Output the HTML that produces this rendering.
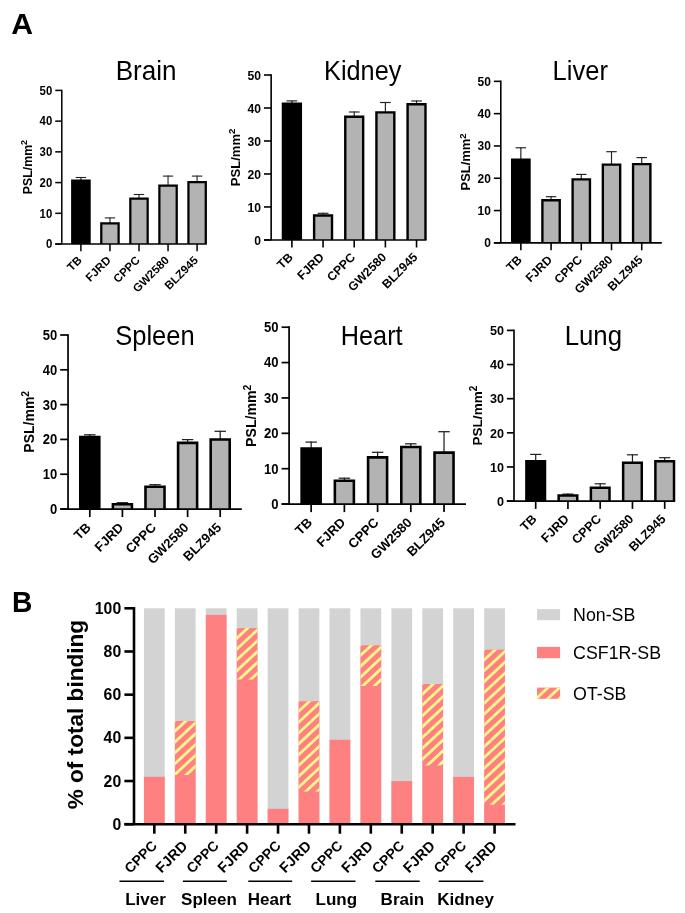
<!DOCTYPE html>
<html><head><meta charset="utf-8"><title>Figure</title>
<style>
html,body{margin:0;padding:0;background:#fff;}
body{width:685px;height:913px;overflow:hidden;font-family:"Liberation Sans",sans-serif;}
svg{display:block;will-change:transform;}
#wrap{width:685px;height:913px;}
</style></head><body><div id="wrap">
<svg width="685" height="913" viewBox="0 0 685 913">
<defs><clipPath id="hc1"><rect x="174.88" y="721" width="20.75" height="53.9"/></clipPath>
<clipPath id="hc3"><rect x="236.74" y="628.1" width="20.75" height="51.4"/></clipPath>
<clipPath id="hc5"><rect x="298.6" y="701.2" width="20.75" height="90.4"/></clipPath>
<clipPath id="hc7"><rect x="360.46" y="645.3" width="20.75" height="40.8"/></clipPath>
<clipPath id="hc9"><rect x="422.32" y="684" width="20.75" height="81.5"/></clipPath>
<clipPath id="hc11"><rect x="484.18" y="649.7" width="20.75" height="155"/></clipPath>
<clipPath id="hleg"><rect x="537.0" y="687.6" width="23.1" height="11.2"/></clipPath></defs>
<rect x="0" y="0" width="685" height="913" fill="#fff"/>
<g font-family="Liberation Sans, sans-serif" fill="#000">
<text x="11.2" y="34.0" font-size="30.2" font-weight="bold">A</text>
<text transform="translate(11.9,612.1) scale(1,1.06)" font-size="28.2" font-weight="bold">B</text>
<line x1="80.9" y1="181.5" x2="80.9" y2="177" stroke="#222" stroke-width="1.1"/>
<line x1="75.71" y1="177.5" x2="86.09" y2="177.5" stroke="#222" stroke-width="1.1"/>
<rect x="72.23" y="180.62" width="17.35" height="63.43" fill="#000"/>
<path d="M72.23 244.05V180.62H89.58V244.05" fill="none" stroke="#000" stroke-width="2.25" stroke-linejoin="miter"/>
<line x1="109.95" y1="224.3" x2="109.95" y2="217.4" stroke="#222" stroke-width="1.1"/>
<line x1="104.76" y1="217.9" x2="115.14" y2="217.9" stroke="#222" stroke-width="1.1"/>
<rect x="101.28" y="223.43" width="17.35" height="20.62" fill="#b3b3b3"/>
<path d="M101.28 244.05V223.43H118.62V244.05" fill="none" stroke="#000" stroke-width="2.25" stroke-linejoin="miter"/>
<line x1="139" y1="199.5" x2="139" y2="194" stroke="#222" stroke-width="1.1"/>
<line x1="133.81" y1="194.5" x2="144.19" y2="194.5" stroke="#222" stroke-width="1.1"/>
<rect x="130.32" y="198.62" width="17.35" height="45.43" fill="#b3b3b3"/>
<path d="M130.32 244.05V198.62H147.67V244.05" fill="none" stroke="#000" stroke-width="2.25" stroke-linejoin="miter"/>
<line x1="168.05" y1="186.4" x2="168.05" y2="175.6" stroke="#222" stroke-width="1.1"/>
<line x1="162.86" y1="176.1" x2="173.24" y2="176.1" stroke="#222" stroke-width="1.1"/>
<rect x="159.38" y="185.53" width="17.35" height="58.53" fill="#b3b3b3"/>
<path d="M159.38 244.05V185.53H176.72V244.05" fill="none" stroke="#000" stroke-width="2.25" stroke-linejoin="miter"/>
<line x1="197.1" y1="183" x2="197.1" y2="175.6" stroke="#222" stroke-width="1.1"/>
<line x1="191.91" y1="176.1" x2="202.29" y2="176.1" stroke="#222" stroke-width="1.1"/>
<rect x="188.43" y="182.12" width="17.35" height="61.93" fill="#b3b3b3"/>
<path d="M188.43 244.05V182.12H205.78V244.05" fill="none" stroke="#000" stroke-width="2.25" stroke-linejoin="miter"/>
<line x1="61.8" y1="89.65" x2="61.8" y2="244.05" stroke="#000" stroke-width="1.5"/>
<line x1="55.25" y1="244.05" x2="206.8" y2="244.05" stroke="#000" stroke-width="1.5"/>
<line x1="55.25" y1="244.05" x2="61.8" y2="244.05" stroke="#000" stroke-width="1.5"/>
<text transform="translate(52.25,248.34) scale(1,1.06)" font-size="11.4" font-weight="bold" text-anchor="end">0</text>
<line x1="55.25" y1="213.32" x2="61.8" y2="213.32" stroke="#000" stroke-width="1.5"/>
<text transform="translate(52.25,217.61) scale(1,1.06)" font-size="11.4" font-weight="bold" text-anchor="end">10</text>
<line x1="55.25" y1="182.59" x2="61.8" y2="182.59" stroke="#000" stroke-width="1.5"/>
<text transform="translate(52.25,186.88) scale(1,1.06)" font-size="11.4" font-weight="bold" text-anchor="end">20</text>
<line x1="55.25" y1="151.86" x2="61.8" y2="151.86" stroke="#000" stroke-width="1.5"/>
<text transform="translate(52.25,156.15) scale(1,1.06)" font-size="11.4" font-weight="bold" text-anchor="end">30</text>
<line x1="55.25" y1="121.13" x2="61.8" y2="121.13" stroke="#000" stroke-width="1.5"/>
<text transform="translate(52.25,125.42) scale(1,1.06)" font-size="11.4" font-weight="bold" text-anchor="end">40</text>
<line x1="55.25" y1="90.4" x2="61.8" y2="90.4" stroke="#000" stroke-width="1.5"/>
<text transform="translate(52.25,94.69) scale(1,1.06)" font-size="11.4" font-weight="bold" text-anchor="end">50</text>
<line x1="80.9" y1="244.05" x2="80.9" y2="251.15" stroke="#000" stroke-width="1.5"/>
<text transform="translate(82.55,260.9) rotate(-45)" font-size="11.5" font-weight="bold" text-anchor="end">TB</text>
<line x1="109.95" y1="244.05" x2="109.95" y2="251.15" stroke="#000" stroke-width="1.5"/>
<text transform="translate(111.6,260.9) rotate(-45)" font-size="11.5" font-weight="bold" text-anchor="end">FJRD</text>
<line x1="139" y1="244.05" x2="139" y2="251.15" stroke="#000" stroke-width="1.5"/>
<text transform="translate(140.65,260.9) rotate(-45)" font-size="11.5" font-weight="bold" text-anchor="end">CPPC</text>
<line x1="168.05" y1="244.05" x2="168.05" y2="251.15" stroke="#000" stroke-width="1.5"/>
<text transform="translate(169.7,260.9) rotate(-45)" font-size="11.5" font-weight="bold" text-anchor="end">GW2580</text>
<line x1="197.1" y1="244.05" x2="197.1" y2="251.15" stroke="#000" stroke-width="1.5"/>
<text transform="translate(198.75,260.9) rotate(-45)" font-size="11.5" font-weight="bold" text-anchor="end">BLZ945</text>
<text transform="translate(31.9,167) rotate(-90)" font-size="12.3" font-weight="bold" text-anchor="middle">PSL/mm<tspan font-size="9.1" dy="-4.43">2</tspan></text>
<text transform="translate(115.71,79.9) scale(1.01,1.06)" font-size="25.8">Brain</text>
<line x1="291.9" y1="104.5" x2="291.9" y2="100.4" stroke="#222" stroke-width="1.17"/>
<line x1="286.52" y1="100.9" x2="297.28" y2="100.9" stroke="#222" stroke-width="1.17"/>
<rect x="282.95" y="103.7" width="17.9" height="136.25" fill="#000"/>
<path d="M282.95 239.95V103.7H300.85V239.95" fill="none" stroke="#000" stroke-width="2.4" stroke-linejoin="miter"/>
<line x1="323.06" y1="216.3" x2="323.06" y2="212.8" stroke="#222" stroke-width="1.17"/>
<line x1="317.68" y1="213.3" x2="328.44" y2="213.3" stroke="#222" stroke-width="1.17"/>
<rect x="314.11" y="215.5" width="17.9" height="24.45" fill="#b3b3b3"/>
<path d="M314.11 239.95V215.5H332.01V239.95" fill="none" stroke="#000" stroke-width="2.4" stroke-linejoin="miter"/>
<line x1="354.22" y1="117.5" x2="354.22" y2="111.5" stroke="#222" stroke-width="1.17"/>
<line x1="348.84" y1="112" x2="359.6" y2="112" stroke="#222" stroke-width="1.17"/>
<rect x="345.27" y="116.7" width="17.9" height="123.25" fill="#b3b3b3"/>
<path d="M345.27 239.95V116.7H363.17V239.95" fill="none" stroke="#000" stroke-width="2.4" stroke-linejoin="miter"/>
<line x1="385.38" y1="113.2" x2="385.38" y2="102" stroke="#222" stroke-width="1.17"/>
<line x1="380" y1="102.5" x2="390.76" y2="102.5" stroke="#222" stroke-width="1.17"/>
<rect x="376.43" y="112.4" width="17.9" height="127.55" fill="#b3b3b3"/>
<path d="M376.43 239.95V112.4H394.33V239.95" fill="none" stroke="#000" stroke-width="2.4" stroke-linejoin="miter"/>
<line x1="416.54" y1="105.1" x2="416.54" y2="100.5" stroke="#222" stroke-width="1.17"/>
<line x1="411.16" y1="101" x2="421.92" y2="101" stroke="#222" stroke-width="1.17"/>
<rect x="407.59" y="104.3" width="17.9" height="135.65" fill="#b3b3b3"/>
<path d="M407.59 239.95V104.3H425.49V239.95" fill="none" stroke="#000" stroke-width="2.4" stroke-linejoin="miter"/>
<line x1="271.15" y1="74.2" x2="271.15" y2="239.95" stroke="#000" stroke-width="1.6"/>
<line x1="264" y1="239.95" x2="426.5" y2="239.95" stroke="#000" stroke-width="1.6"/>
<line x1="264" y1="239.95" x2="271.15" y2="239.95" stroke="#000" stroke-width="1.6"/>
<text transform="translate(261,244.52) scale(1,1.06)" font-size="12.14" font-weight="bold" text-anchor="end">0</text>
<line x1="264" y1="206.96" x2="271.15" y2="206.96" stroke="#000" stroke-width="1.6"/>
<text transform="translate(261,211.53) scale(1,1.06)" font-size="12.14" font-weight="bold" text-anchor="end">10</text>
<line x1="264" y1="173.97" x2="271.15" y2="173.97" stroke="#000" stroke-width="1.6"/>
<text transform="translate(261,178.54) scale(1,1.06)" font-size="12.14" font-weight="bold" text-anchor="end">20</text>
<line x1="264" y1="140.98" x2="271.15" y2="140.98" stroke="#000" stroke-width="1.6"/>
<text transform="translate(261,145.55) scale(1,1.06)" font-size="12.14" font-weight="bold" text-anchor="end">30</text>
<line x1="264" y1="107.99" x2="271.15" y2="107.99" stroke="#000" stroke-width="1.6"/>
<text transform="translate(261,112.56) scale(1,1.06)" font-size="12.14" font-weight="bold" text-anchor="end">40</text>
<line x1="264" y1="75" x2="271.15" y2="75" stroke="#000" stroke-width="1.6"/>
<text transform="translate(261,79.57) scale(1,1.06)" font-size="12.14" font-weight="bold" text-anchor="end">50</text>
<line x1="291.9" y1="239.95" x2="291.9" y2="247.48" stroke="#000" stroke-width="1.6"/>
<text transform="translate(293.66,257.9) rotate(-45)" font-size="12.25" font-weight="bold" text-anchor="end">TB</text>
<line x1="323.06" y1="239.95" x2="323.06" y2="247.48" stroke="#000" stroke-width="1.6"/>
<text transform="translate(324.82,257.9) rotate(-45)" font-size="12.25" font-weight="bold" text-anchor="end">FJRD</text>
<line x1="354.22" y1="239.95" x2="354.22" y2="247.48" stroke="#000" stroke-width="1.6"/>
<text transform="translate(355.98,257.9) rotate(-45)" font-size="12.25" font-weight="bold" text-anchor="end">CPPC</text>
<line x1="385.38" y1="239.95" x2="385.38" y2="247.48" stroke="#000" stroke-width="1.6"/>
<text transform="translate(387.14,257.9) rotate(-45)" font-size="12.25" font-weight="bold" text-anchor="end">GW2580</text>
<line x1="416.54" y1="239.95" x2="416.54" y2="247.48" stroke="#000" stroke-width="1.6"/>
<text transform="translate(418.3,257.9) rotate(-45)" font-size="12.25" font-weight="bold" text-anchor="end">BLZ945</text>
<text transform="translate(239.8,157.4) rotate(-90)" font-size="13.1" font-weight="bold" text-anchor="middle">PSL/mm<tspan font-size="9.69" dy="-4.72">2</tspan></text>
<text transform="translate(324.07,79.9) scale(0.98,1.06)" font-size="25.8">Kidney</text>
<line x1="520.85" y1="160.5" x2="520.85" y2="147.3" stroke="#222" stroke-width="1.16"/>
<line x1="515.63" y1="147.8" x2="526.07" y2="147.8" stroke="#222" stroke-width="1.16"/>
<rect x="512.18" y="159.68" width="17.34" height="83.17" fill="#000"/>
<path d="M512.18 242.85V159.68H529.52V242.85" fill="none" stroke="#000" stroke-width="2.36" stroke-linejoin="miter"/>
<line x1="551.07" y1="201.1" x2="551.07" y2="196.2" stroke="#222" stroke-width="1.16"/>
<line x1="545.85" y1="196.7" x2="556.29" y2="196.7" stroke="#222" stroke-width="1.16"/>
<rect x="542.4" y="200.28" width="17.34" height="42.57" fill="#b3b3b3"/>
<path d="M542.4 242.85V200.28H559.74V242.85" fill="none" stroke="#000" stroke-width="2.36" stroke-linejoin="miter"/>
<line x1="581.29" y1="180.2" x2="581.29" y2="173.9" stroke="#222" stroke-width="1.16"/>
<line x1="576.07" y1="174.4" x2="586.51" y2="174.4" stroke="#222" stroke-width="1.16"/>
<rect x="572.62" y="179.38" width="17.34" height="63.47" fill="#b3b3b3"/>
<path d="M572.62 242.85V179.38H589.96V242.85" fill="none" stroke="#000" stroke-width="2.36" stroke-linejoin="miter"/>
<line x1="611.51" y1="165.4" x2="611.51" y2="151.2" stroke="#222" stroke-width="1.16"/>
<line x1="606.29" y1="151.7" x2="616.73" y2="151.7" stroke="#222" stroke-width="1.16"/>
<rect x="602.84" y="164.58" width="17.34" height="78.27" fill="#b3b3b3"/>
<path d="M602.84 242.85V164.58H620.18V242.85" fill="none" stroke="#000" stroke-width="2.36" stroke-linejoin="miter"/>
<line x1="641.73" y1="164.9" x2="641.73" y2="157.1" stroke="#222" stroke-width="1.16"/>
<line x1="636.51" y1="157.6" x2="646.95" y2="157.6" stroke="#222" stroke-width="1.16"/>
<rect x="633.06" y="164.08" width="17.34" height="78.77" fill="#b3b3b3"/>
<path d="M633.06 242.85V164.08H650.4V242.85" fill="none" stroke="#000" stroke-width="2.36" stroke-linejoin="miter"/>
<line x1="500.8" y1="80.56" x2="500.8" y2="242.85" stroke="#000" stroke-width="1.58"/>
<line x1="493.9" y1="242.85" x2="661.8" y2="242.85" stroke="#000" stroke-width="1.58"/>
<line x1="493.9" y1="242.85" x2="500.8" y2="242.85" stroke="#000" stroke-width="1.58"/>
<text transform="translate(490.9,247.35) scale(1,1.06)" font-size="11.97" font-weight="bold" text-anchor="end">0</text>
<line x1="493.9" y1="210.55" x2="500.8" y2="210.55" stroke="#000" stroke-width="1.58"/>
<text transform="translate(490.9,215.05) scale(1,1.06)" font-size="11.97" font-weight="bold" text-anchor="end">10</text>
<line x1="493.9" y1="178.25" x2="500.8" y2="178.25" stroke="#000" stroke-width="1.58"/>
<text transform="translate(490.9,182.75) scale(1,1.06)" font-size="11.97" font-weight="bold" text-anchor="end">20</text>
<line x1="493.9" y1="145.95" x2="500.8" y2="145.95" stroke="#000" stroke-width="1.58"/>
<text transform="translate(490.9,150.45) scale(1,1.06)" font-size="11.97" font-weight="bold" text-anchor="end">30</text>
<line x1="493.9" y1="113.65" x2="500.8" y2="113.65" stroke="#000" stroke-width="1.58"/>
<text transform="translate(490.9,118.15) scale(1,1.06)" font-size="11.97" font-weight="bold" text-anchor="end">40</text>
<line x1="493.9" y1="81.35" x2="500.8" y2="81.35" stroke="#000" stroke-width="1.58"/>
<text transform="translate(490.9,85.85) scale(1,1.06)" font-size="11.97" font-weight="bold" text-anchor="end">50</text>
<line x1="520.85" y1="242.85" x2="520.85" y2="250.28" stroke="#000" stroke-width="1.58"/>
<text transform="translate(522.58,260.54) rotate(-45)" font-size="12.08" font-weight="bold" text-anchor="end">TB</text>
<line x1="551.07" y1="242.85" x2="551.07" y2="250.28" stroke="#000" stroke-width="1.58"/>
<text transform="translate(552.8,260.54) rotate(-45)" font-size="12.08" font-weight="bold" text-anchor="end">FJRD</text>
<line x1="581.29" y1="242.85" x2="581.29" y2="250.28" stroke="#000" stroke-width="1.58"/>
<text transform="translate(583.02,260.54) rotate(-45)" font-size="12.08" font-weight="bold" text-anchor="end">CPPC</text>
<line x1="611.51" y1="242.85" x2="611.51" y2="250.28" stroke="#000" stroke-width="1.58"/>
<text transform="translate(613.24,260.54) rotate(-45)" font-size="12.08" font-weight="bold" text-anchor="end">GW2580</text>
<line x1="641.73" y1="242.85" x2="641.73" y2="250.28" stroke="#000" stroke-width="1.58"/>
<text transform="translate(643.46,260.54) rotate(-45)" font-size="12.08" font-weight="bold" text-anchor="end">BLZ945</text>
<text transform="translate(470.3,162) rotate(-90)" font-size="12.92" font-weight="bold" text-anchor="middle">PSL/mm<tspan font-size="9.56" dy="-4.65">2</tspan></text>
<text transform="translate(552.56,79.9) scale(0.99,1.06)" font-size="25.8">Liver</text>
<line x1="89.8" y1="437.8" x2="89.8" y2="434.3" stroke="#222" stroke-width="1.25"/>
<line x1="84.08" y1="434.8" x2="95.52" y2="434.8" stroke="#222" stroke-width="1.25"/>
<rect x="80.28" y="437.08" width="19.04" height="71.97" fill="#000"/>
<path d="M80.28 509.05V437.08H99.32V509.05" fill="none" stroke="#000" stroke-width="2.56" stroke-linejoin="miter"/>
<line x1="122.4" y1="504.9" x2="122.4" y2="502.2" stroke="#222" stroke-width="1.25"/>
<line x1="116.68" y1="502.7" x2="128.12" y2="502.7" stroke="#222" stroke-width="1.25"/>
<rect x="112.88" y="504.18" width="19.04" height="4.87" fill="#b3b3b3"/>
<path d="M112.88 509.05V504.18H131.92V509.05" fill="none" stroke="#000" stroke-width="2.56" stroke-linejoin="miter"/>
<line x1="155" y1="487.4" x2="155" y2="484.2" stroke="#222" stroke-width="1.25"/>
<line x1="149.28" y1="484.7" x2="160.72" y2="484.7" stroke="#222" stroke-width="1.25"/>
<rect x="145.48" y="486.68" width="19.04" height="22.37" fill="#b3b3b3"/>
<path d="M145.48 509.05V486.68H164.52V509.05" fill="none" stroke="#000" stroke-width="2.56" stroke-linejoin="miter"/>
<line x1="187.6" y1="443.6" x2="187.6" y2="439.1" stroke="#222" stroke-width="1.25"/>
<line x1="181.88" y1="439.6" x2="193.32" y2="439.6" stroke="#222" stroke-width="1.25"/>
<rect x="178.08" y="442.88" width="19.04" height="66.17" fill="#b3b3b3"/>
<path d="M178.08 509.05V442.88H197.12V509.05" fill="none" stroke="#000" stroke-width="2.56" stroke-linejoin="miter"/>
<line x1="220.2" y1="440.3" x2="220.2" y2="430.8" stroke="#222" stroke-width="1.25"/>
<line x1="214.48" y1="431.3" x2="225.92" y2="431.3" stroke="#222" stroke-width="1.25"/>
<rect x="210.68" y="439.58" width="19.04" height="69.47" fill="#b3b3b3"/>
<path d="M210.68 509.05V439.58H229.72V509.05" fill="none" stroke="#000" stroke-width="2.56" stroke-linejoin="miter"/>
<line x1="68.05" y1="334.14" x2="68.05" y2="509.05" stroke="#000" stroke-width="1.71"/>
<line x1="60.2" y1="509.05" x2="241.8" y2="509.05" stroke="#000" stroke-width="1.71"/>
<line x1="60.2" y1="509.05" x2="68.05" y2="509.05" stroke="#000" stroke-width="1.71"/>
<text transform="translate(57.2,513.94) scale(1,1.06)" font-size="13" font-weight="bold" text-anchor="end">0</text>
<line x1="60.2" y1="474.24" x2="68.05" y2="474.24" stroke="#000" stroke-width="1.71"/>
<text transform="translate(57.2,479.13) scale(1,1.06)" font-size="13" font-weight="bold" text-anchor="end">10</text>
<line x1="60.2" y1="439.43" x2="68.05" y2="439.43" stroke="#000" stroke-width="1.71"/>
<text transform="translate(57.2,444.32) scale(1,1.06)" font-size="13" font-weight="bold" text-anchor="end">20</text>
<line x1="60.2" y1="404.62" x2="68.05" y2="404.62" stroke="#000" stroke-width="1.71"/>
<text transform="translate(57.2,409.51) scale(1,1.06)" font-size="13" font-weight="bold" text-anchor="end">30</text>
<line x1="60.2" y1="369.81" x2="68.05" y2="369.81" stroke="#000" stroke-width="1.71"/>
<text transform="translate(57.2,374.7) scale(1,1.06)" font-size="13" font-weight="bold" text-anchor="end">40</text>
<line x1="60.2" y1="335" x2="68.05" y2="335" stroke="#000" stroke-width="1.71"/>
<text transform="translate(57.2,339.89) scale(1,1.06)" font-size="13" font-weight="bold" text-anchor="end">50</text>
<line x1="89.8" y1="509.05" x2="89.8" y2="517.07" stroke="#000" stroke-width="1.71"/>
<text transform="translate(91.68,528.26) rotate(-45)" font-size="13.11" font-weight="bold" text-anchor="end">TB</text>
<line x1="122.4" y1="509.05" x2="122.4" y2="517.07" stroke="#000" stroke-width="1.71"/>
<text transform="translate(124.28,528.26) rotate(-45)" font-size="13.11" font-weight="bold" text-anchor="end">FJRD</text>
<line x1="155" y1="509.05" x2="155" y2="517.07" stroke="#000" stroke-width="1.71"/>
<text transform="translate(156.88,528.26) rotate(-45)" font-size="13.11" font-weight="bold" text-anchor="end">CPPC</text>
<line x1="187.6" y1="509.05" x2="187.6" y2="517.07" stroke="#000" stroke-width="1.71"/>
<text transform="translate(189.48,528.26) rotate(-45)" font-size="13.11" font-weight="bold" text-anchor="end">GW2580</text>
<line x1="220.2" y1="509.05" x2="220.2" y2="517.07" stroke="#000" stroke-width="1.71"/>
<text transform="translate(222.08,528.26) rotate(-45)" font-size="13.11" font-weight="bold" text-anchor="end">BLZ945</text>
<text transform="translate(34.2,421.8) rotate(-90)" font-size="14.02" font-weight="bold" text-anchor="middle">PSL/mm<tspan font-size="10.38" dy="-5.05">2</tspan></text>
<text transform="translate(115.16,344.6) scale(0.99,1.06)" font-size="25.8">Spleen</text>
<line x1="311.15" y1="449.3" x2="311.15" y2="441.6" stroke="#222" stroke-width="1.26"/>
<line x1="305.43" y1="442.1" x2="316.87" y2="442.1" stroke="#222" stroke-width="1.26"/>
<rect x="301.64" y="448.59" width="19.02" height="55.46" fill="#000"/>
<path d="M301.64 504.05V448.59H320.66V504.05" fill="none" stroke="#000" stroke-width="2.58" stroke-linejoin="miter"/>
<line x1="344.37" y1="481.4" x2="344.37" y2="477.7" stroke="#222" stroke-width="1.26"/>
<line x1="338.65" y1="478.2" x2="350.09" y2="478.2" stroke="#222" stroke-width="1.26"/>
<rect x="334.86" y="480.69" width="19.02" height="23.36" fill="#b3b3b3"/>
<path d="M334.86 504.05V480.69H353.88V504.05" fill="none" stroke="#000" stroke-width="2.58" stroke-linejoin="miter"/>
<line x1="377.59" y1="458.1" x2="377.59" y2="451.8" stroke="#222" stroke-width="1.26"/>
<line x1="371.87" y1="452.3" x2="383.31" y2="452.3" stroke="#222" stroke-width="1.26"/>
<rect x="368.08" y="457.39" width="19.02" height="46.66" fill="#b3b3b3"/>
<path d="M368.08 504.05V457.39H387.1V504.05" fill="none" stroke="#000" stroke-width="2.58" stroke-linejoin="miter"/>
<line x1="410.81" y1="447.7" x2="410.81" y2="443.3" stroke="#222" stroke-width="1.26"/>
<line x1="405.09" y1="443.8" x2="416.53" y2="443.8" stroke="#222" stroke-width="1.26"/>
<rect x="401.3" y="446.99" width="19.02" height="57.06" fill="#b3b3b3"/>
<path d="M401.3 504.05V446.99H420.32V504.05" fill="none" stroke="#000" stroke-width="2.58" stroke-linejoin="miter"/>
<line x1="444.03" y1="453.3" x2="444.03" y2="431.2" stroke="#222" stroke-width="1.26"/>
<line x1="438.31" y1="431.7" x2="449.75" y2="431.7" stroke="#222" stroke-width="1.26"/>
<rect x="434.52" y="452.59" width="19.02" height="51.46" fill="#b3b3b3"/>
<path d="M434.52 504.05V452.59H453.54V504.05" fill="none" stroke="#000" stroke-width="2.58" stroke-linejoin="miter"/>
<line x1="289.1" y1="326.34" x2="289.1" y2="504.05" stroke="#000" stroke-width="1.72"/>
<line x1="281.6" y1="504.05" x2="466" y2="504.05" stroke="#000" stroke-width="1.72"/>
<line x1="281.6" y1="504.05" x2="289.1" y2="504.05" stroke="#000" stroke-width="1.72"/>
<text transform="translate(278.6,508.97) scale(1,1.06)" font-size="13.06" font-weight="bold" text-anchor="end">0</text>
<line x1="281.6" y1="468.68" x2="289.1" y2="468.68" stroke="#000" stroke-width="1.72"/>
<text transform="translate(278.6,473.6) scale(1,1.06)" font-size="13.06" font-weight="bold" text-anchor="end">10</text>
<line x1="281.6" y1="433.31" x2="289.1" y2="433.31" stroke="#000" stroke-width="1.72"/>
<text transform="translate(278.6,438.23) scale(1,1.06)" font-size="13.06" font-weight="bold" text-anchor="end">20</text>
<line x1="281.6" y1="397.94" x2="289.1" y2="397.94" stroke="#000" stroke-width="1.72"/>
<text transform="translate(278.6,402.86) scale(1,1.06)" font-size="13.06" font-weight="bold" text-anchor="end">30</text>
<line x1="281.6" y1="362.57" x2="289.1" y2="362.57" stroke="#000" stroke-width="1.72"/>
<text transform="translate(278.6,367.49) scale(1,1.06)" font-size="13.06" font-weight="bold" text-anchor="end">40</text>
<line x1="281.6" y1="327.2" x2="289.1" y2="327.2" stroke="#000" stroke-width="1.72"/>
<text transform="translate(278.6,332.12) scale(1,1.06)" font-size="13.06" font-weight="bold" text-anchor="end">50</text>
<line x1="311.15" y1="504.05" x2="311.15" y2="512.11" stroke="#000" stroke-width="1.72"/>
<text transform="translate(313.04,523.36) rotate(-45)" font-size="13.18" font-weight="bold" text-anchor="end">TB</text>
<line x1="344.37" y1="504.05" x2="344.37" y2="512.11" stroke="#000" stroke-width="1.72"/>
<text transform="translate(346.26,523.36) rotate(-45)" font-size="13.18" font-weight="bold" text-anchor="end">FJRD</text>
<line x1="377.59" y1="504.05" x2="377.59" y2="512.11" stroke="#000" stroke-width="1.72"/>
<text transform="translate(379.48,523.36) rotate(-45)" font-size="13.18" font-weight="bold" text-anchor="end">CPPC</text>
<line x1="410.81" y1="504.05" x2="410.81" y2="512.11" stroke="#000" stroke-width="1.72"/>
<text transform="translate(412.7,523.36) rotate(-45)" font-size="13.18" font-weight="bold" text-anchor="end">GW2580</text>
<line x1="444.03" y1="504.05" x2="444.03" y2="512.11" stroke="#000" stroke-width="1.72"/>
<text transform="translate(445.92,523.36) rotate(-45)" font-size="13.18" font-weight="bold" text-anchor="end">BLZ945</text>
<text transform="translate(255.8,415.8) rotate(-90)" font-size="14.1" font-weight="bold" text-anchor="middle">PSL/mm<tspan font-size="10.43" dy="-5.07">2</tspan></text>
<text transform="translate(340.78,344.6) scale(0.98,1.06)" font-size="25.8">Heart</text>
<line x1="535.7" y1="462" x2="535.7" y2="453.9" stroke="#222" stroke-width="1.21"/>
<line x1="530.11" y1="454.4" x2="541.29" y2="454.4" stroke="#222" stroke-width="1.21"/>
<rect x="526.39" y="461.24" width="18.62" height="39.86" fill="#000"/>
<path d="M526.39 501.1V461.24H545.01V501.1" fill="none" stroke="#000" stroke-width="2.48" stroke-linejoin="miter"/>
<line x1="567.95" y1="496.3" x2="567.95" y2="493.6" stroke="#222" stroke-width="1.21"/>
<line x1="562.36" y1="494.1" x2="573.54" y2="494.1" stroke="#222" stroke-width="1.21"/>
<rect x="558.64" y="495.54" width="18.62" height="5.56" fill="#b3b3b3"/>
<path d="M558.64 501.1V495.54H577.26V501.1" fill="none" stroke="#000" stroke-width="2.48" stroke-linejoin="miter"/>
<line x1="600.2" y1="488.4" x2="600.2" y2="483.3" stroke="#222" stroke-width="1.21"/>
<line x1="594.61" y1="483.8" x2="605.79" y2="483.8" stroke="#222" stroke-width="1.21"/>
<rect x="590.89" y="487.64" width="18.62" height="13.46" fill="#b3b3b3"/>
<path d="M590.89 501.1V487.64H609.51V501.1" fill="none" stroke="#000" stroke-width="2.48" stroke-linejoin="miter"/>
<line x1="632.45" y1="463.6" x2="632.45" y2="454.3" stroke="#222" stroke-width="1.21"/>
<line x1="626.86" y1="454.8" x2="638.04" y2="454.8" stroke="#222" stroke-width="1.21"/>
<rect x="623.14" y="462.84" width="18.62" height="38.26" fill="#b3b3b3"/>
<path d="M623.14 501.1V462.84H641.76V501.1" fill="none" stroke="#000" stroke-width="2.48" stroke-linejoin="miter"/>
<line x1="664.7" y1="462.1" x2="664.7" y2="457.2" stroke="#222" stroke-width="1.21"/>
<line x1="659.11" y1="457.7" x2="670.29" y2="457.7" stroke="#222" stroke-width="1.21"/>
<rect x="655.39" y="461.34" width="18.62" height="39.76" fill="#b3b3b3"/>
<path d="M655.39 501.1V461.34H674.01V501.1" fill="none" stroke="#000" stroke-width="2.48" stroke-linejoin="miter"/>
<line x1="514" y1="329.57" x2="514" y2="501.1" stroke="#000" stroke-width="1.66"/>
<line x1="506.9" y1="501.1" x2="675.2" y2="501.1" stroke="#000" stroke-width="1.66"/>
<line x1="506.9" y1="501.1" x2="514" y2="501.1" stroke="#000" stroke-width="1.66"/>
<text transform="translate(503.9,505.84) scale(1,1.06)" font-size="12.59" font-weight="bold" text-anchor="end">0</text>
<line x1="506.9" y1="466.96" x2="514" y2="466.96" stroke="#000" stroke-width="1.66"/>
<text transform="translate(503.9,471.7) scale(1,1.06)" font-size="12.59" font-weight="bold" text-anchor="end">10</text>
<line x1="506.9" y1="432.82" x2="514" y2="432.82" stroke="#000" stroke-width="1.66"/>
<text transform="translate(503.9,437.56) scale(1,1.06)" font-size="12.59" font-weight="bold" text-anchor="end">20</text>
<line x1="506.9" y1="398.68" x2="514" y2="398.68" stroke="#000" stroke-width="1.66"/>
<text transform="translate(503.9,403.42) scale(1,1.06)" font-size="12.59" font-weight="bold" text-anchor="end">30</text>
<line x1="506.9" y1="364.54" x2="514" y2="364.54" stroke="#000" stroke-width="1.66"/>
<text transform="translate(503.9,369.28) scale(1,1.06)" font-size="12.59" font-weight="bold" text-anchor="end">40</text>
<line x1="506.9" y1="330.4" x2="514" y2="330.4" stroke="#000" stroke-width="1.66"/>
<text transform="translate(503.9,335.14) scale(1,1.06)" font-size="12.59" font-weight="bold" text-anchor="end">50</text>
<line x1="535.7" y1="501.1" x2="535.7" y2="508.89" stroke="#000" stroke-width="1.66"/>
<text transform="translate(537.52,519.7) rotate(-45)" font-size="12.7" font-weight="bold" text-anchor="end">TB</text>
<line x1="567.95" y1="501.1" x2="567.95" y2="508.89" stroke="#000" stroke-width="1.66"/>
<text transform="translate(569.77,519.7) rotate(-45)" font-size="12.7" font-weight="bold" text-anchor="end">FJRD</text>
<line x1="600.2" y1="501.1" x2="600.2" y2="508.89" stroke="#000" stroke-width="1.66"/>
<text transform="translate(602.02,519.7) rotate(-45)" font-size="12.7" font-weight="bold" text-anchor="end">CPPC</text>
<line x1="632.45" y1="501.1" x2="632.45" y2="508.89" stroke="#000" stroke-width="1.66"/>
<text transform="translate(634.27,519.7) rotate(-45)" font-size="12.7" font-weight="bold" text-anchor="end">GW2580</text>
<line x1="664.7" y1="501.1" x2="664.7" y2="508.89" stroke="#000" stroke-width="1.66"/>
<text transform="translate(666.52,519.7) rotate(-45)" font-size="12.7" font-weight="bold" text-anchor="end">BLZ945</text>
<text transform="translate(481.7,415.6) rotate(-90)" font-size="13.58" font-weight="bold" text-anchor="middle">PSL/mm<tspan font-size="10.05" dy="-4.89">2</tspan></text>
<text transform="translate(564.64,345) scale(1,1.06)" font-size="25.8">Lung</text>
<rect x="143.95" y="608.3" width="20.75" height="215.9" fill="#d3d3d3"/>
<rect x="143.95" y="776.8" width="20.75" height="47.4" fill="#ff8080"/>
<rect x="174.88" y="608.3" width="20.75" height="215.9" fill="#d3d3d3"/>
<rect x="174.88" y="721" width="20.75" height="103.2" fill="#ff8080"/>
<g clip-path="url(#hc1)" stroke="#fff88a" stroke-width="2.78"><line x1="171.88" y1="712.31" x2="198.63" y2="687.43"/><line x1="171.88" y1="723.15" x2="198.63" y2="698.27"/><line x1="171.88" y1="733.99" x2="198.63" y2="709.11"/><line x1="171.88" y1="744.83" x2="198.63" y2="719.95"/><line x1="171.88" y1="755.67" x2="198.63" y2="730.79"/><line x1="171.88" y1="766.51" x2="198.63" y2="741.63"/><line x1="171.88" y1="777.35" x2="198.63" y2="752.47"/><line x1="171.88" y1="788.19" x2="198.63" y2="763.31"/><line x1="171.88" y1="799.03" x2="198.63" y2="774.15"/><line x1="171.88" y1="809.87" x2="198.63" y2="784.99"/><line x1="171.88" y1="820.71" x2="198.63" y2="795.83"/></g>
<rect x="205.81" y="608.3" width="20.75" height="215.9" fill="#d3d3d3"/>
<rect x="205.81" y="614.9" width="20.75" height="209.3" fill="#ff8080"/>
<rect x="236.74" y="608.3" width="20.75" height="215.9" fill="#d3d3d3"/>
<rect x="236.74" y="628.1" width="20.75" height="196.1" fill="#ff8080"/>
<g clip-path="url(#hc3)" stroke="#fff88a" stroke-width="2.78"><line x1="233.74" y1="619.41" x2="260.49" y2="594.53"/><line x1="233.74" y1="630.25" x2="260.49" y2="605.37"/><line x1="233.74" y1="641.09" x2="260.49" y2="616.21"/><line x1="233.74" y1="651.93" x2="260.49" y2="627.05"/><line x1="233.74" y1="662.77" x2="260.49" y2="637.89"/><line x1="233.74" y1="673.61" x2="260.49" y2="648.73"/><line x1="233.74" y1="684.45" x2="260.49" y2="659.57"/><line x1="233.74" y1="695.29" x2="260.49" y2="670.41"/><line x1="233.74" y1="706.13" x2="260.49" y2="681.25"/><line x1="233.74" y1="716.97" x2="260.49" y2="692.09"/><line x1="233.74" y1="727.81" x2="260.49" y2="702.93"/></g>
<rect x="267.67" y="608.3" width="20.75" height="215.9" fill="#d3d3d3"/>
<rect x="267.67" y="808.8" width="20.75" height="15.4" fill="#ff8080"/>
<rect x="298.6" y="608.3" width="20.75" height="215.9" fill="#d3d3d3"/>
<rect x="298.6" y="701.2" width="20.75" height="123" fill="#ff8080"/>
<g clip-path="url(#hc5)" stroke="#fff88a" stroke-width="2.78"><line x1="295.6" y1="692.51" x2="322.35" y2="667.63"/><line x1="295.6" y1="703.35" x2="322.35" y2="678.47"/><line x1="295.6" y1="714.19" x2="322.35" y2="689.31"/><line x1="295.6" y1="725.03" x2="322.35" y2="700.15"/><line x1="295.6" y1="735.87" x2="322.35" y2="710.99"/><line x1="295.6" y1="746.71" x2="322.35" y2="721.83"/><line x1="295.6" y1="757.55" x2="322.35" y2="732.67"/><line x1="295.6" y1="768.39" x2="322.35" y2="743.51"/><line x1="295.6" y1="779.23" x2="322.35" y2="754.35"/><line x1="295.6" y1="790.07" x2="322.35" y2="765.19"/><line x1="295.6" y1="800.91" x2="322.35" y2="776.03"/><line x1="295.6" y1="811.75" x2="322.35" y2="786.87"/><line x1="295.6" y1="822.59" x2="322.35" y2="797.71"/><line x1="295.6" y1="833.43" x2="322.35" y2="808.55"/></g>
<rect x="329.53" y="608.3" width="20.75" height="215.9" fill="#d3d3d3"/>
<rect x="329.53" y="739.8" width="20.75" height="84.4" fill="#ff8080"/>
<rect x="360.46" y="608.3" width="20.75" height="215.9" fill="#d3d3d3"/>
<rect x="360.46" y="645.3" width="20.75" height="178.9" fill="#ff8080"/>
<g clip-path="url(#hc7)" stroke="#fff88a" stroke-width="2.78"><line x1="357.46" y1="636.61" x2="384.21" y2="611.73"/><line x1="357.46" y1="647.45" x2="384.21" y2="622.57"/><line x1="357.46" y1="658.29" x2="384.21" y2="633.41"/><line x1="357.46" y1="669.13" x2="384.21" y2="644.25"/><line x1="357.46" y1="679.97" x2="384.21" y2="655.09"/><line x1="357.46" y1="690.81" x2="384.21" y2="665.93"/><line x1="357.46" y1="701.65" x2="384.21" y2="676.77"/><line x1="357.46" y1="712.49" x2="384.21" y2="687.61"/><line x1="357.46" y1="723.33" x2="384.21" y2="698.45"/><line x1="357.46" y1="734.17" x2="384.21" y2="709.29"/></g>
<rect x="391.39" y="608.3" width="20.75" height="215.9" fill="#d3d3d3"/>
<rect x="391.39" y="781.1" width="20.75" height="43.1" fill="#ff8080"/>
<rect x="422.32" y="608.3" width="20.75" height="215.9" fill="#d3d3d3"/>
<rect x="422.32" y="684" width="20.75" height="140.2" fill="#ff8080"/>
<g clip-path="url(#hc9)" stroke="#fff88a" stroke-width="2.78"><line x1="419.32" y1="675.31" x2="446.07" y2="650.43"/><line x1="419.32" y1="686.15" x2="446.07" y2="661.27"/><line x1="419.32" y1="696.99" x2="446.07" y2="672.11"/><line x1="419.32" y1="707.83" x2="446.07" y2="682.95"/><line x1="419.32" y1="718.67" x2="446.07" y2="693.79"/><line x1="419.32" y1="729.51" x2="446.07" y2="704.63"/><line x1="419.32" y1="740.35" x2="446.07" y2="715.47"/><line x1="419.32" y1="751.19" x2="446.07" y2="726.31"/><line x1="419.32" y1="762.03" x2="446.07" y2="737.15"/><line x1="419.32" y1="772.87" x2="446.07" y2="747.99"/><line x1="419.32" y1="783.71" x2="446.07" y2="758.83"/><line x1="419.32" y1="794.55" x2="446.07" y2="769.67"/><line x1="419.32" y1="805.39" x2="446.07" y2="780.51"/></g>
<rect x="453.25" y="608.3" width="20.75" height="215.9" fill="#d3d3d3"/>
<rect x="453.25" y="776.9" width="20.75" height="47.3" fill="#ff8080"/>
<rect x="484.18" y="608.3" width="20.75" height="215.9" fill="#d3d3d3"/>
<rect x="484.18" y="649.7" width="20.75" height="174.5" fill="#ff8080"/>
<g clip-path="url(#hc11)" stroke="#fff88a" stroke-width="2.78"><line x1="481.18" y1="641.01" x2="507.93" y2="616.13"/><line x1="481.18" y1="651.85" x2="507.93" y2="626.97"/><line x1="481.18" y1="662.69" x2="507.93" y2="637.81"/><line x1="481.18" y1="673.53" x2="507.93" y2="648.65"/><line x1="481.18" y1="684.37" x2="507.93" y2="659.49"/><line x1="481.18" y1="695.21" x2="507.93" y2="670.33"/><line x1="481.18" y1="706.05" x2="507.93" y2="681.17"/><line x1="481.18" y1="716.89" x2="507.93" y2="692.01"/><line x1="481.18" y1="727.73" x2="507.93" y2="702.85"/><line x1="481.18" y1="738.57" x2="507.93" y2="713.69"/><line x1="481.18" y1="749.41" x2="507.93" y2="724.53"/><line x1="481.18" y1="760.25" x2="507.93" y2="735.37"/><line x1="481.18" y1="771.09" x2="507.93" y2="746.21"/><line x1="481.18" y1="781.93" x2="507.93" y2="757.05"/><line x1="481.18" y1="792.77" x2="507.93" y2="767.89"/><line x1="481.18" y1="803.61" x2="507.93" y2="778.73"/><line x1="481.18" y1="814.45" x2="507.93" y2="789.57"/><line x1="481.18" y1="825.29" x2="507.93" y2="800.41"/><line x1="481.18" y1="836.13" x2="507.93" y2="811.25"/><line x1="481.18" y1="846.97" x2="507.93" y2="822.09"/></g>
<line x1="134" y1="607" x2="134" y2="824.2" stroke="#000" stroke-width="2.6"/>
<line x1="124.4" y1="824.2" x2="515.5" y2="824.2" stroke="#000" stroke-width="2.6"/>
<line x1="124.4" y1="824.2" x2="134" y2="824.2" stroke="#000" stroke-width="2.6"/>
<text x="121.2" y="829.81" font-size="15.8" font-weight="bold" text-anchor="end">0</text>
<line x1="124.4" y1="781.02" x2="134" y2="781.02" stroke="#000" stroke-width="2.6"/>
<text x="121.2" y="786.63" font-size="15.8" font-weight="bold" text-anchor="end">20</text>
<line x1="124.4" y1="737.84" x2="134" y2="737.84" stroke="#000" stroke-width="2.6"/>
<text x="121.2" y="743.45" font-size="15.8" font-weight="bold" text-anchor="end">40</text>
<line x1="124.4" y1="694.66" x2="134" y2="694.66" stroke="#000" stroke-width="2.6"/>
<text x="121.2" y="700.27" font-size="15.8" font-weight="bold" text-anchor="end">60</text>
<line x1="124.4" y1="651.48" x2="134" y2="651.48" stroke="#000" stroke-width="2.6"/>
<text x="121.2" y="657.09" font-size="15.8" font-weight="bold" text-anchor="end">80</text>
<line x1="124.4" y1="608.3" x2="134" y2="608.3" stroke="#000" stroke-width="2.6"/>
<text x="121.2" y="613.91" font-size="15.8" font-weight="bold" text-anchor="end">100</text>
<line x1="154.32" y1="824.2" x2="154.32" y2="833.7" stroke="#000" stroke-width="2.6"/>
<text transform="translate(157.82,846.5) rotate(-45)" font-size="14" font-weight="bold" text-anchor="end">CPPC</text>
<line x1="185.25" y1="824.2" x2="185.25" y2="833.7" stroke="#000" stroke-width="2.6"/>
<text transform="translate(188.35,846.9) rotate(-45)" font-size="14.5" font-weight="bold" text-anchor="end">FJRD</text>
<line x1="216.19" y1="824.2" x2="216.19" y2="833.7" stroke="#000" stroke-width="2.6"/>
<text transform="translate(219.69,846.5) rotate(-45)" font-size="14" font-weight="bold" text-anchor="end">CPPC</text>
<line x1="247.11" y1="824.2" x2="247.11" y2="833.7" stroke="#000" stroke-width="2.6"/>
<text transform="translate(250.21,846.9) rotate(-45)" font-size="14.5" font-weight="bold" text-anchor="end">FJRD</text>
<line x1="278.04" y1="824.2" x2="278.04" y2="833.7" stroke="#000" stroke-width="2.6"/>
<text transform="translate(281.54,846.5) rotate(-45)" font-size="14" font-weight="bold" text-anchor="end">CPPC</text>
<line x1="308.98" y1="824.2" x2="308.98" y2="833.7" stroke="#000" stroke-width="2.6"/>
<text transform="translate(312.08,846.9) rotate(-45)" font-size="14.5" font-weight="bold" text-anchor="end">FJRD</text>
<line x1="339.9" y1="824.2" x2="339.9" y2="833.7" stroke="#000" stroke-width="2.6"/>
<text transform="translate(343.4,846.5) rotate(-45)" font-size="14" font-weight="bold" text-anchor="end">CPPC</text>
<line x1="370.83" y1="824.2" x2="370.83" y2="833.7" stroke="#000" stroke-width="2.6"/>
<text transform="translate(373.94,846.9) rotate(-45)" font-size="14.5" font-weight="bold" text-anchor="end">FJRD</text>
<line x1="401.76" y1="824.2" x2="401.76" y2="833.7" stroke="#000" stroke-width="2.6"/>
<text transform="translate(405.26,846.5) rotate(-45)" font-size="14" font-weight="bold" text-anchor="end">CPPC</text>
<line x1="432.69" y1="824.2" x2="432.69" y2="833.7" stroke="#000" stroke-width="2.6"/>
<text transform="translate(435.8,846.9) rotate(-45)" font-size="14.5" font-weight="bold" text-anchor="end">FJRD</text>
<line x1="463.62" y1="824.2" x2="463.62" y2="833.7" stroke="#000" stroke-width="2.6"/>
<text transform="translate(467.12,846.5) rotate(-45)" font-size="14" font-weight="bold" text-anchor="end">CPPC</text>
<line x1="494.56" y1="824.2" x2="494.56" y2="833.7" stroke="#000" stroke-width="2.6"/>
<text transform="translate(497.66,846.9) rotate(-45)" font-size="14.5" font-weight="bold" text-anchor="end">FJRD</text>
<text transform="translate(83.2,714.6) rotate(-90)" font-size="22.6" font-weight="bold" text-anchor="middle">% of total binding</text>
<line x1="119.5" y1="881.2" x2="164" y2="881.2" stroke="#000" stroke-width="1.6"/>
<text x="125.21" y="905.2" font-size="17" font-weight="bold">Liver</text>
<line x1="182.9" y1="881.2" x2="226.8" y2="881.2" stroke="#000" stroke-width="1.6"/>
<text x="181.11" y="905.2" font-size="17" font-weight="bold">Spleen</text>
<line x1="248.3" y1="881.2" x2="292.2" y2="881.2" stroke="#000" stroke-width="1.6"/>
<text x="247.71" y="905.2" font-size="17" font-weight="bold">Heart</text>
<line x1="311.1" y1="881.2" x2="355.5" y2="881.2" stroke="#000" stroke-width="1.6"/>
<text x="315.51" y="905.2" font-size="17" font-weight="bold">Lung</text>
<line x1="375.3" y1="881.2" x2="419.7" y2="881.2" stroke="#000" stroke-width="1.6"/>
<text x="380.61" y="905.2" font-size="17" font-weight="bold">Brain</text>
<line x1="438.7" y1="881.2" x2="483.4" y2="881.2" stroke="#000" stroke-width="1.6"/>
<text x="437.21" y="905.2" font-size="17" font-weight="bold">Kidney</text>
<rect x="537.0" y="609.1" width="23.1" height="11.1" fill="#d3d3d3"/>
<text x="573.08" y="620.6" font-size="17.8">Non-SB</text>
<rect x="537.0" y="646.9" width="23.1" height="11.3" fill="#ff8080"/>
<text x="573.08" y="658.6" font-size="17.8">CSF1R-SB</text>
<rect x="537.0" y="687.6" width="23.1" height="11.2" fill="#ff8080"/>
<g clip-path="url(#hleg)" stroke="#fff88a" stroke-width="2.78"><line x1="534" y1="678.91" x2="563.1" y2="651.85"/><line x1="534" y1="689.75" x2="563.1" y2="662.69"/><line x1="534" y1="700.59" x2="563.1" y2="673.53"/><line x1="534" y1="711.43" x2="563.1" y2="684.37"/><line x1="534" y1="722.27" x2="563.1" y2="695.21"/><line x1="534" y1="733.11" x2="563.1" y2="706.05"/><line x1="534" y1="743.95" x2="563.1" y2="716.89"/></g>
<text x="573.08" y="699.6" font-size="17.8">OT-SB</text>
</g></svg>
</div></body></html>
